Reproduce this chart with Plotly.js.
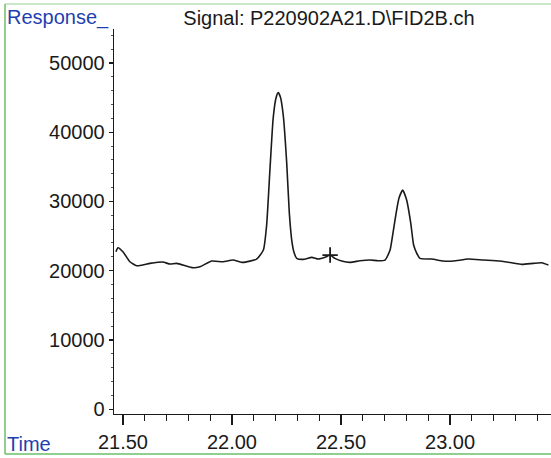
<!DOCTYPE html>
<html>
<head>
<meta charset="utf-8">
<script src="https://cdn.plot.ly/plotly-3.0.1.min.js"></script>
<style>html,body{margin:0;padding:0;background:#fff;}#chart{width:551px;height:458px;}</style>
</head>
<body>
<div id="chart"></div>
<script>
// Chromatogram trace (time in min, response)
const times = [21.468, 21.477, 21.500, 21.532, 21.563, 21.624, 21.683, 21.716, 21.746, 21.822, 21.853, 21.907, 21.959, 22.005, 22.050, 22.113, 22.144, 22.159, 22.174, 22.189, 22.202, 22.212, 22.222, 22.235, 22.251, 22.263, 22.274, 22.284, 22.297, 22.327, 22.366, 22.396, 22.427, 22.450, 22.472, 22.503, 22.541, 22.587, 22.633, 22.671, 22.702, 22.725, 22.739, 22.752, 22.766, 22.783, 22.801, 22.820, 22.833, 22.847, 22.862, 22.916, 22.969, 23.015, 23.084, 23.153, 23.229, 23.283, 23.329, 23.382, 23.421, 23.451];
const responses = [22730, 23310, 22730, 21285, 20707, 21054, 21242, 20953, 21054, 20418, 20562, 21386, 21285, 21531, 21198, 21675, 22976, 26588, 34536, 42050, 44940, 45705, 45084, 42483, 35547, 28322, 24420, 22686, 21776, 21632, 21921, 21675, 21921, 22253, 21776, 21386, 21198, 21429, 21531, 21429, 21531, 22976, 25577, 28178, 30490, 31646, 30200, 26834, 23698, 22542, 21776, 21675, 21386, 21386, 21675, 21531, 21386, 21140, 20909, 21054, 21140, 20808];
const markerTime = [22.450];
const markerResponse = [22253];
const xTickVals = [21.5, 22.0, 22.5, 23.0];
const yTickVals = [0, 10000, 20000, 30000, 40000, 50000];
const titleText = "Signal: P220902A21.D\\FID2B.ch";
const yLabel = "Response_";
const xLabel = "Time";

const blue = "#1f3fae";
const ink = "#1a1a1a";
const fontFam = "Liberation Sans, Arial, sans-serif";

const traces = [
  {x: times, y: responses, type: "scatter", mode: "lines",
   line: {color: ink, width: 1.6, shape: "spline", smoothing: 0.5}, hoverinfo: "skip"},
  {x: markerTime, y: markerResponse, type: "scatter", mode: "markers",
   marker: {symbol: "cross-thin-open", size: 11, color: ink, line: {color: ink, width: 1.8}}, hoverinfo: "skip"}
];

const layout = {
  width: 551, height: 458,
  margin: {l: 114, r: 0, t: 29, b: 44, pad: 0},
  paper_bgcolor: "#fff", plot_bgcolor: "#fff",
  showlegend: false,
  font: {family: fontFam, size: 20, color: ink},
  title: {text: titleText, x: 0.597, xanchor: "center", xref: "container",
          y: 1 - 18/458, yanchor: "middle", yref: "container",
          font: {family: fontFam, size: 20, color: ink}},
  xaxis: {range: [21.459, 23.463], tickvals: xTickVals, tickformat: ".2f",
          showgrid: false, zeroline: false, showline: true, linecolor: ink, linewidth: 1.3,
          ticks: "outside", ticklen: 10, tickwidth: 1.3, tickcolor: ink,
          minor: {dtick: 0.1, tick0: 21.5, ticks: "outside", ticklen: 6, tickwidth: 1.1, tickcolor: ink, showgrid: false},
          tickfont: {family: fontFam, size: 20, color: ink}},
  yaxis: {range: [-700, 54900], tickvals: yTickVals, tickformat: "d",
          showgrid: false, zeroline: false, showline: true, linecolor: ink, linewidth: 1.3,
          ticks: "outside", ticklen: 4, tickwidth: 1.2, tickcolor: ink,
          minor: {dtick: 2000, tick0: 0, ticks: "outside", ticklen: 2, tickwidth: 1, tickcolor: "#555", showgrid: false},
          tickfont: {family: fontFam, size: 20, color: ink}},
  annotations: [
    {text: yLabel, xref: "paper", yref: "paper", x: -0.2494, y: 1.0286,
     xanchor: "left", yanchor: "middle", showarrow: false,
     font: {family: fontFam, size: 20, color: blue}},
    {text: xLabel, xref: "paper", yref: "paper", x: -0.2494, y: -0.077,
     xanchor: "left", yanchor: "middle", showarrow: false,
     font: {family: fontFam, size: 20, color: blue}}
  ],
  shapes: [
    {type: "line", xref: "paper", yref: "paper", x0: -0.2494, x1: -0.2494, y0: -0.104, y1: 1.0649,
     line: {color: "#6cbf6c", width: 1.5}},
    {type: "line", xref: "paper", yref: "paper", x0: -0.2494, x1: 1.02, y0: 1.0649, y1: 1.0649,
     line: {color: "#8fcf8f", width: 1.2}},
    {type: "line", xref: "paper", yref: "paper", x0: -0.2494, x1: 1.02, y0: -0.104, y1: -0.104,
     line: {color: "#6cbf6c", width: 1.5}}
  ]
};

Plotly.newPlot("chart", traces, layout, {displayModeBar: false, staticPlot: true});
</script>
</body>
</html>
